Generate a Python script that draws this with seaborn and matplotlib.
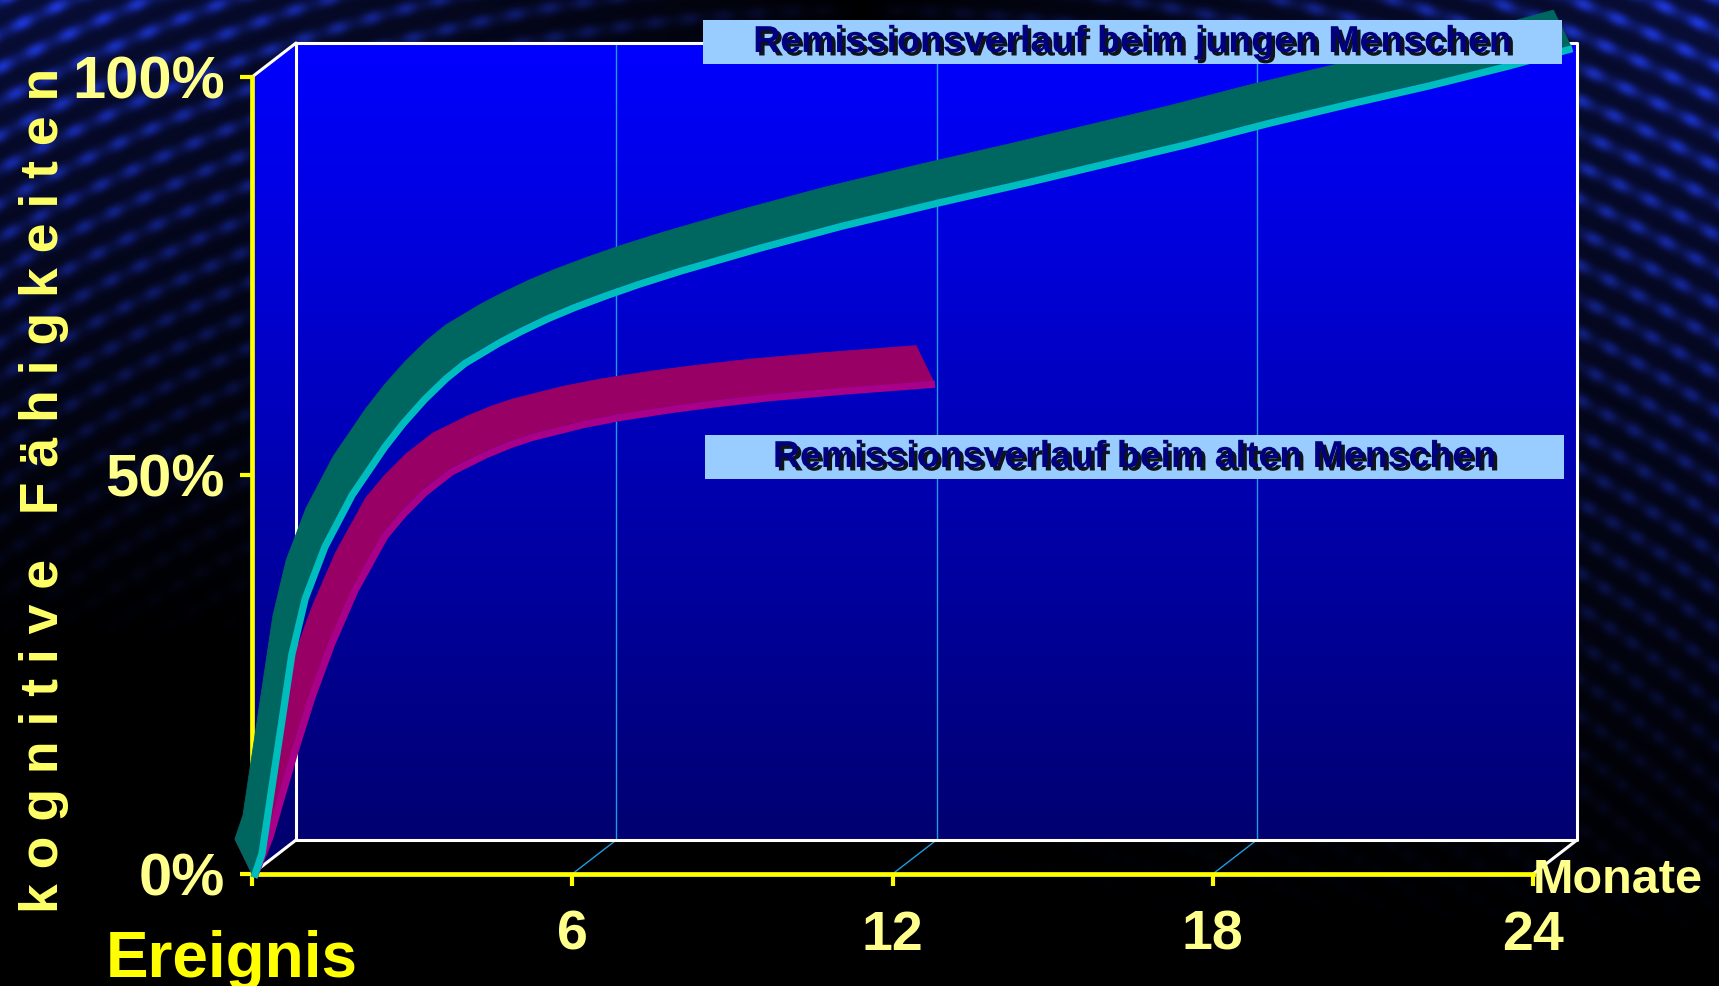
"""
Remissionsverlauf (kognitive Fähigkeiten nach einem Ereignis) als 3D-artiges Bandchart.
"""
import numpy as np
import matplotlib
matplotlib.use("Agg")
import matplotlib.pyplot as plt
import matplotlib.patheffects as pe
import seaborn as sns
from matplotlib.patches import Polygon, Rectangle
from matplotlib.transforms import offset_copy
from matplotlib.colors import LinearSegmentedColormap

# ---- data ----
months_young = [0, 0.15, 0.34, 0.52, 0.71, 0.96, 1.33, 1.84, 2.45, 2.8, 3.2, 3.6, 3.95,
                4.3, 4.6, 5.0, 5.5, 6.0, 6.6, 7.2, 8.0, 9.5, 11.0, 12.8, 14.5, 16.0,
                17.5, 19.0, 20.5, 22.0, 23.5, 24.7]
cognition_young = [0, 3, 11.5, 19.5, 28, 35, 41.5, 48, 54, 57.0, 60.0, 62.6, 64.5,
                   65.9, 67.1, 68.5, 70.1, 71.5, 73.0, 74.4, 76.1, 79.0, 81.7, 84.6, 87.2, 89.6,
                   92.0, 94.6, 97.0, 99.3, 101.8, 104.0]

months_old = [0, 0.30, 0.52, 0.77, 1.09, 1.46, 1.89, 2.45, 2.8, 3.2, 3.7, 4.33, 4.8,
              5.2, 6.15, 6.84, 7.8, 8.6, 9.65, 11.0, 12.76]
cognition_old = [0, 5.1, 10.2, 15.9, 22.7, 29.4, 36.0, 42.8, 45.6, 48.3, 50.9, 53.0, 54.3,
                 55.2, 56.8, 57.7, 58.7, 59.4, 60.2, 61.0, 61.9]

x_ticks = [0, 6, 12, 18, 24]
x_tick_labels = ["", "6", "12", "18", "24"]
y_ticks = [0, 50, 100]
y_tick_labels = ["0%", "50%", "100%"]
grid_months = [6, 12, 18]

label_young = "Remissionsverlauf beim jungen Menschen"
label_old = "Remissionsverlauf beim alten Menschen"

# ---- layout (pixels of the 1719x986 canvas) ----
W, H = 1719, 986
X0_PX, X24_PX = 252, 1533
Y0_PX, Y100_PX = 874, 77
XLIM = (-0.8, 25.4)
YLIM = (-2.5, 108)
WALL_DEPTH_PX = (44, 34)
RIBBON_DEPTH_PX = (-17, 35)

ppm = (X24_PX - X0_PX) / 24.0      # pixels per month
ppp = (Y0_PX - Y100_PX) / 100.0    # pixels per percent

sns.set_theme(style="dark")
plt.rcParams["font.family"] = ["Liberation Sans", "DejaVu Sans"]

fig = plt.figure(figsize=(W / 100, H / 100), dpi=100, facecolor="black")

# background: dark slide with blue arc streaks, brightest in the upper corners
ax_bg = fig.add_axes([0, 0, 1, 1], zorder=-1)
yy, xx = np.mgrid[0:H, 0:W]
r = np.hypot(xx - 860, yy - 1750)
ang = np.arctan2(yy - 1750, xx - 860)
stripes = (0.5 + 0.5 * np.cos(2 * np.pi * r / 30)) * (0.6 + 0.4 * np.cos(ang * 160) ** 2)
side = np.clip(np.abs(xx - 860) / 860, 0, 1) ** 0.8
reach = np.where(xx < 860, 650, 950)
env = side * np.clip(1 - yy / reach, 0, 1) ** 1.1
intensity = env * (0.25 + 0.75 * stripes ** 2)
bg = np.dstack([intensity * 0.12, intensity * 0.22, intensity * 0.88])
ax_bg.imshow(bg, aspect="auto", interpolation="bilinear")
ax_bg.set_axis_off()

# main axes placed so that the front axes sit where the slide has them
left_px = X0_PX + XLIM[0] * ppm
right_px = X0_PX + XLIM[1] * ppm
top_px = Y0_PX - YLIM[1] * ppp
bottom_px = Y0_PX - YLIM[0] * ppp
ax = fig.add_axes([left_px / W, 1 - bottom_px / H,
                   (right_px - left_px) / W, (bottom_px - top_px) / H])
ax.set_facecolor("none")

wdx, wdy = WALL_DEPTH_PX[0] / ppm, WALL_DEPTH_PX[1] / ppp

# back + side wall with blue gradient
wall_cmap = LinearSegmentedColormap.from_list("wall", ["#00006A", "#0000FF"])
wall_shape = Polygon([(0, 0), (0, 100), (wdx, 100 + wdy), (24 + wdx, 100 + wdy),
                      (24 + wdx, wdy), (wdx, wdy)], closed=True, transform=ax.transData)
grad = np.linspace(0, 1, 256).reshape(-1, 1)
im = ax.imshow(grad, cmap=wall_cmap, origin="lower", aspect="auto",
               extent=[0, 24 + wdx, 0, 100 + wdy], zorder=0)
im.set_clip_path(wall_shape)

# gridlines on the wall and floor
for m in grid_months:
    ax.plot([m + wdx, m + wdx], [wdy, 100 + wdy], color="#1E9BE6", lw=1.0, zorder=1)
    ax.plot([m, m + wdx], [0, wdy], color="#1E9BE6", lw=1.0, zorder=1)

# white box edges
ax.plot([wdx, wdx, 24 + wdx, 24 + wdx, wdx], [wdy, 100 + wdy, 100 + wdy, wdy, wdy],
        color="white", lw=2.2, zorder=1.5, clip_on=False)
ax.plot([0, wdx], [100, 100 + wdy], color="white", lw=2.2, zorder=1.5)
ax.plot([0, wdx], [0, wdy], color="white", lw=2.2, zorder=1.5)
ax.plot([24, 24 + wdx], [0, wdy], color="white", lw=2.2, zorder=1.5)


def draw_ribbon(ax, x, y, top_color, face_color, z):
    """Draw a 3D looking ribbon: a flat top surface and a thin front face."""
    x = np.asarray(x, dtype=float)
    y = np.asarray(y, dtype=float)
    dx, dy = RIBBON_DEPTH_PX[0] / ppm, RIBBON_DEPTH_PX[1] / ppp
    top = np.column_stack([np.r_[x, x[::-1] + dx], np.r_[y, y[::-1] + dy]])
    ax.add_patch(Polygon(top, closed=True, facecolor=top_color, edgecolor=top_color,
                         lw=0.6, joinstyle="round", zorder=z, clip_on=False))
    face_tr = offset_copy(ax.transData, fig=fig, x=2, y=-3.5, units="dots")
    sns.lineplot(x=x, y=y, ax=ax, color=face_color, lw=5.2, transform=face_tr,
                 solid_capstyle="butt", solid_joinstyle="round",
                 zorder=z + 0.05, clip_on=False, legend=False)


draw_ribbon(ax, months_old, cognition_old, "#990066", "#A80088", 3.0)
draw_ribbon(ax, months_young, cognition_young, "#006660", "#00BDBD", 3.2)

ax.set_xlim(*XLIM)
ax.set_ylim(*YLIM)
ax.set_xlabel("")
ax.set_ylabel("")
ax.grid(False)

# yellow front axes
for side_name in ["top", "right"]:
    ax.spines[side_name].set_visible(False)
for side_name in ["left", "bottom"]:
    ax.spines[side_name].set_color("#FFFF00")
    ax.spines[side_name].set_linewidth(3.4)
    ax.spines[side_name].set_position(("data", 0))
    ax.spines[side_name].set_zorder(2.5)
ax.spines["left"].set_bounds(0, 100)
ax.spines["bottom"].set_bounds(0, 24)

ax.set_xticks(x_ticks)
ax.set_xticklabels(x_tick_labels)
ax.set_yticks(y_ticks)
ax.set_yticklabels(y_tick_labels)
ax.tick_params(axis="both", direction="out", length=8.6, width=3.0, color="#FFFF00",
               labelcolor="#FFFF8C", bottom=True, left=True)
ax.tick_params(axis="x", labelsize=40, pad=17)
ax.tick_params(axis="y", labelsize=43, pad=11)
plt.setp(ax.get_xticklabels(), fontweight="bold")
plt.setp(ax.get_yticklabels(), fontweight="bold")

# axis titles
fig.text(44 / W, 1 - 490 / H, "k o g n i t i v e   F ä h i g k e i t e n",
         rotation=90, ha="center", va="center", color="#FFFF66",
         fontsize=38.5, fontweight="bold")
fig.text(106 / W, 1 - 977 / H, "Ereignis", ha="left", va="baseline",
         color="#FFFF00", fontsize=46, fontweight="bold")
fig.text(1533 / W, 1 - 893 / H, "Monate", ha="left", va="baseline",
         color="#FFFF8C", fontsize=35, fontweight="bold")

# series labels in light blue boxes
shadow = [pe.withSimplePatchShadow(offset=(2.5, -2.5), shadow_rgbFace="black", alpha=0.9)]
for (x1, y1, x2, y2), text in [((703, 20, 1562, 64), label_young),
                               ((705, 435, 1564, 479), label_old)]:
    fig.add_artist(Rectangle((x1 / W, 1 - y2 / H), (x2 - x1) / W, (y2 - y1) / H,
                             transform=fig.transFigure, facecolor="#99CCFF",
                             edgecolor="none", zorder=5))
    fig.text((x1 + x2) / 2 / W, 1 - (y1 + y2) / 2 / H, text, ha="center", va="center",
             color="#000080", fontsize=27, fontweight="bold", zorder=6,
             path_effects=shadow)

fig.savefig("out.png", dpi=100, facecolor="black")
